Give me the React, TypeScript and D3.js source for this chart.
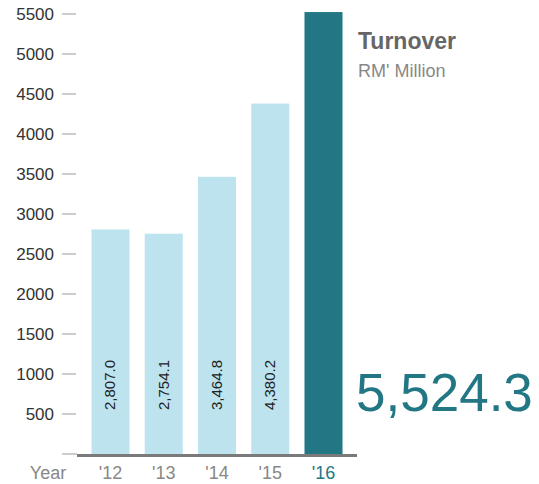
import React, { useEffect, useRef } from "react";
import * as d3 from "d3";

const years = ["'12", "'13", "'14", "'15", "'16"];
const turnover = [2807.0, 2754.1, 3464.8, 4380.2, 5524.3];
const barLabels = ["2,807.0", "2,754.1", "3,464.8", "4,380.2", ""];
const yTicks = [500, 1000, 1500, 2000, 2500, 3000, 3500, 4000, 4500, 5000, 5500];

export default function App() {
  const ref = useRef<SVGSVGElement>(null);

  useEffect(() => {
    if (!ref.current) return;
    const svg = d3.select(ref.current);
    svg.selectAll("*").remove();
    const font = "'Liberation Sans', Arial, sans-serif";

    const x = d3
      .scaleBand<string>()
      .domain(years)
      .range([77, 357])
      .paddingInner(0.286)
      .paddingOuter(0.272);

    const y = d3.scaleLinear().domain([0, 5500]).range([454, 14]);

    // y ticks
    const yt = svg.append("g");
    yt.selectAll("line")
      .data(yTicks)
      .enter()
      .append("line")
      .attr("x1", 62)
      .attr("x2", 76)
      .attr("y1", (d) => y(d))
      .attr("y2", (d) => y(d))
      .attr("stroke", "#999")
      .attr("stroke-width", 1);
    yt.selectAll("text")
      .data(yTicks)
      .enter()
      .append("text")
      .attr("x", 54)
      .attr("y", (d) => y(d))
      .attr("dy", "0.35em")
      .attr("text-anchor", "end")
      .style("font-family", font)
      .style("font-size", "17px")
      .attr("fill", "#333")
      .text((d) => d);

    // bars
    svg
      .selectAll("rect.bar")
      .data(turnover)
      .enter()
      .append("rect")
      .attr("class", "bar")
      .attr("x", (_, i) => x(years[i]) as number)
      .attr("width", x.bandwidth())
      .attr("y", (d) => y(d))
      .attr("height", (d) => y(0) - y(d))
      .attr("fill", (_, i) => (i === years.length - 1 ? "#237785" : "#bde4ee"));

    // labels inside bars
    svg
      .selectAll("text.val")
      .data(barLabels)
      .enter()
      .append("text")
      .attr("class", "val")
      .attr(
        "transform",
        (_, i) => `translate(${(x(years[i]) as number) + x.bandwidth() / 2 + 5},385) rotate(-90)`
      )
      .attr("text-anchor", "middle")
      .style("font-family", font)
      .style("font-size", "15px")
      .attr("fill", "#222")
      .text((d) => d);

    // zero tick + baseline
    svg.append("line").attr("x1", 62).attr("x2", 77).attr("y1", 454).attr("y2", 454).attr("stroke", "#999");
    svg
      .append("line")
      .attr("x1", 77)
      .attr("x2", 357)
      .attr("y1", 455.5)
      .attr("y2", 455.5)
      .attr("stroke", "#7a7a7a")
      .attr("stroke-width", 3);

    // x labels
    svg
      .append("text")
      .attr("x", 48)
      .attr("y", 479)
      .attr("text-anchor", "middle")
      .style("font-family", font)
      .style("font-size", "18px")
      .attr("fill", "#888")
      .text("Year");
    svg
      .selectAll("text.xl")
      .data(years)
      .enter()
      .append("text")
      .attr("class", "xl")
      .attr("x", (d) => (x(d) as number) + x.bandwidth() / 2)
      .attr("y", 479)
      .attr("text-anchor", "middle")
      .style("font-family", font)
      .style("font-size", "18px")
      .attr("fill", (_, i) => (i === years.length - 1 ? "#237785" : "#888"))
      .text((d) => d);

    // title block
    svg
      .append("text")
      .attr("x", 358)
      .attr("y", 49)
      .style("font-family", font)
      .style("font-size", "23px")
      .style("font-weight", "bold")
      .attr("fill", "#666")
      .text("Turnover");
    svg
      .append("text")
      .attr("x", 358)
      .attr("y", 77)
      .style("font-family", font)
      .style("font-size", "18px")
      .attr("fill", "#888")
      .text("RM' Million");
    svg
      .append("text")
      .attr("x", 356)
      .attr("y", 411)
      .style("font-family", font)
      .style("font-size", "53px")
      .attr("fill", "#237785")
      .text("5,524.3");
  }, []);

  return (
    <svg
      ref={ref}
      width={539}
      height={484}
      style={{ position: "absolute", left: 0, top: 0, background: "#fff" }}
    ></svg>
  );
}
